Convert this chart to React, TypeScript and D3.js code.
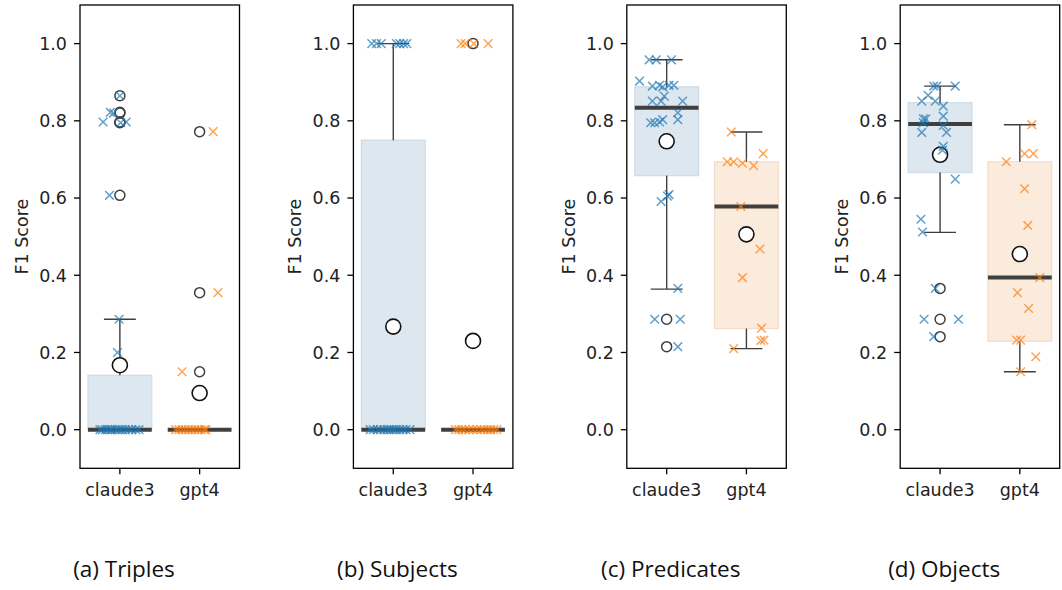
import React from "react";
import * as d3 from "d3";

const categories = ["claude3", "gpt4"];
const panelTitles = ["(a) Triples", "(b) Subjects", "(c) Predicates", "(d) Objects"];
const yTicks = [0, 0.2, 0.4, 0.6, 0.8, 1.0];

// box statistics per panel: [claude3, gpt4]
const q1 = [[0, 0], [0, 0], [0.658, 0.262], [0.666, 0.229]];
const medians = [[0, 0], [0, 0], [0.834, 0.578], [0.792, 0.394]];
const q3 = [[0.141, 0], [0.75, 0], [0.888, 0.694], [0.847, 0.694]];
const whiskerLo = [[0, 0], [0, 0], [0.364, 0.21], [0.511, 0.15]];
const whiskerHi = [[0.286, 0], [1.0, 0], [0.958, 0.771], [0.89, 0.79]];
const means = [[0.167, 0.095], [0.267, 0.23], [0.747, 0.506], [0.712, 0.455]];

// individual scores: [value, jitter offset in category units]
const triplesClaude3 = [
  [0.865, 0.0], [0.822, -0.12], [0.82, -0.08], [0.797, -0.21], [0.797, 0.08], [0.795, 0.01],
  [0.607, -0.13], [0.286, -0.01], [0.2, -0.03],
  [0, -0.25], [0, -0.22], [0, -0.18], [0, -0.15], [0, -0.12], [0, -0.1], [0, -0.06], [0, -0.03],
  [0, 0.0], [0, 0.03], [0, 0.07], [0, 0.11], [0, 0.15], [0, 0.2], [0, 0.24],
];
const triplesGpt4 = [
  [0.772, 0.17], [0.355, 0.23], [0.15, -0.22],
  [0, -0.3], [0, -0.26], [0, -0.22], [0, -0.18], [0, -0.14], [0, -0.1], [0, -0.06], [0, -0.02],
  [0, 0.02], [0, 0.06], [0, 0.08],
];
const subjectsClaude3 = [
  [1, -0.27], [1, -0.21], [1, -0.15], [1, 0.04], [1, 0.08], [1, 0.13], [1, 0.17],
  [0, -0.29], [0, -0.25], [0, -0.2], [0, -0.16], [0, -0.12], [0, -0.08], [0, -0.05], [0, -0.02],
  [0, 0.01], [0, 0.04], [0, 0.08], [0, 0.12], [0, 0.16], [0, 0.21],
];
const subjectsGpt4 = [
  [1, -0.15], [1, -0.1], [1, 0.01], [1, 0.19],
  [0, -0.22], [0, -0.18], [0, -0.14], [0, -0.1], [0, -0.05], [0, 0.0], [0, 0.05], [0, 0.1],
  [0, 0.14], [0, 0.18], [0, 0.22], [0, 0.26], [0, 0.3],
];
const predicatesClaude3 = [
  [0.958, -0.22], [0.958, -0.13], [0.958, 0.06], [0.903, -0.34],
  [0.89, -0.18], [0.892, -0.09], [0.888, -0.05], [0.892, 0.03], [0.892, 0.09],
  [0.864, -0.03], [0.851, -0.18], [0.851, -0.07], [0.851, 0.2], [0.821, 0.14],
  [0.803, -0.05], [0.803, 0.14], [0.795, -0.2], [0.795, -0.15], [0.797, -0.09],
  [0.609, 0.03], [0.605, 0.01], [0.591, -0.07], [0.366, 0.14],
  [0.286, -0.15], [0.286, 0.17], [0.215, 0.14],
];
const predicatesGpt4 = [
  [0.771, -0.19], [0.694, -0.24], [0.694, -0.16], [0.69, -0.05], [0.684, 0.09], [0.715, 0.21],
  [0.578, -0.07], [0.468, 0.17], [0.394, -0.05], [0.263, 0.19], [0.232, 0.22], [0.231, 0.18],
  [0.21, -0.16],
];
const objectsClaude3 = [
  [0.89, -0.08], [0.89, -0.04], [0.89, 0.19], [0.866, -0.15], [0.851, -0.23], [0.851, -0.06],
  [0.838, 0.04], [0.812, 0.04], [0.805, -0.21], [0.805, -0.18], [0.795, -0.21], [0.788, 0.04],
  [0.77, -0.23], [0.77, 0.08], [0.734, 0.04], [0.724, 0.03], [0.649, 0.19], [0.545, -0.24],
  [0.512, -0.22], [0.366, -0.06], [0.286, -0.2], [0.286, 0.23], [0.241, -0.08],
];
const objectsGpt4 = [
  [0.79, 0.15], [0.694, -0.17], [0.715, 0.06], [0.715, 0.17], [0.624, 0.06], [0.529, 0.1],
  [0.394, 0.25], [0.355, -0.03], [0.314, 0.11], [0.232, -0.04], [0.232, 0.01], [0.189, 0.2],
  [0.15, 0.01],
];

const points = [
  [triplesClaude3, triplesGpt4],
  [subjectsClaude3, subjectsGpt4],
  [predicatesClaude3, predicatesGpt4],
  [objectsClaude3, objectsGpt4],
];

const seriesColors = ["#1f77b4", "#ff7f0e"];
const boxFills = ["#dde7ef", "#fbebdd"];
const boxStrokes = ["#cedbe6", "#f4dcc8"];
const lineColor = "#3f3f3f";

const panelLeft0 = 80;
const panelStep = 273.4;
const plotW = 159.5;
const plotTop = 5;
const plotBottom = 468.3;
const font = "DejaVu Sans, sans-serif";
const tol = 0.004;

function Panel({ idx }: { idx: number }) {
  const left = panelLeft0 + idx * panelStep;
  const x = d3.scaleLinear().domain([-0.5, 1.5]).range([left, left + plotW]);
  const y = d3.scaleLinear().domain([-0.1, 1.1]).range([plotBottom, plotTop]);
  const boxHalf = x(0.4) - x(0);
  const capHalf = boxHalf / 2;
  const midY = (plotTop + plotBottom) / 2;
  return (
    <g>
      {categories.map((c, ci) => {
        const cx = x(ci);
        const lo = q1[idx][ci], hi = q3[idx][ci];
        const wl = whiskerLo[idx][ci], wh = whiskerHi[idx][ci];
        const pts = points[idx][ci];
        const outl = Array.from(new Set(pts.filter(p => p[0] > wh + tol || p[0] < wl - tol).map(p => p[0])));
        return (
          <g key={c}>
            {hi > lo && (
              <rect x={cx - boxHalf} y={y(hi)} width={boxHalf * 2} height={y(lo) - y(hi)}
                fill={boxFills[ci]} stroke={boxStrokes[ci]} strokeWidth={1.2} />
            )}
            {wh > hi && (
              <g stroke={lineColor} strokeWidth={1.4}>
                <line x1={cx} x2={cx} y1={y(hi)} y2={y(wh)} />
                <line x1={cx - capHalf} x2={cx + capHalf} y1={y(wh)} y2={y(wh)} />
              </g>
            )}
            {wl < lo && (
              <g stroke={lineColor} strokeWidth={1.4}>
                <line x1={cx} x2={cx} y1={y(lo)} y2={y(wl)} />
                <line x1={cx - capHalf} x2={cx + capHalf} y1={y(wl)} y2={y(wl)} />
              </g>
            )}
            <line x1={cx - boxHalf} x2={cx + boxHalf} y1={y(medians[idx][ci])} y2={y(medians[idx][ci])}
              stroke={lineColor} strokeWidth={4} />
            {outl.map((v, k) => (
              <circle key={k} cx={cx} cy={y(v)} r={5} fill="none" stroke={lineColor} strokeWidth={1.5} />
            ))}
            <circle cx={cx} cy={y(means[idx][ci])} r={7.5} fill="white" stroke="#111" strokeWidth={1.6} />
            {pts.map((p, k) => {
              const px = x(ci + p[1]);
              const py = y(p[0]);
              const s = 4.3;
              return (
                <path key={k} d={`M${px - s},${py - s}L${px + s},${py + s}M${px - s},${py + s}L${px + s},${py - s}`}
                  stroke={seriesColors[ci]} strokeWidth={1.5} opacity={0.7} fill="none" />
              );
            })}
          </g>
        );
      })}
      <rect x={left} y={plotTop} width={plotW} height={plotBottom - plotTop} fill="none" stroke="#000" strokeWidth={1.3} />
      {yTicks.map(t => (
        <g key={t}>
          <line x1={left - 6} x2={left} y1={y(t)} y2={y(t)} stroke="#000" strokeWidth={1.3} />
          <text x={left - 13} y={y(t)} dy="0.36em" textAnchor="end" fontFamily={font} fontSize={17.5} fill="#222">
            {t.toFixed(1)}
          </text>
        </g>
      ))}
      {categories.map((c, ci) => (
        <g key={c}>
          <line x1={x(ci)} x2={x(ci)} y1={plotBottom} y2={plotBottom + 6} stroke="#000" strokeWidth={1.3} />
          <text x={x(ci)} y={plotBottom + 28} textAnchor="middle" fontFamily={font} fontSize={17.5} fill="#222">{c}</text>
        </g>
      ))}
      <text transform={`translate(${left - 52},${midY}) rotate(-90)`} textAnchor="middle" fontFamily={font} fontSize={17.5} fill="#222">
        F1 Score
      </text>
      <text x={left + 44} y={577} textAnchor="middle" fontFamily="'Open Sans', sans-serif" fontSize={22.5} fill="#111">
        {panelTitles[idx]}
      </text>
    </g>
  );
}

export default function App() {
  return (
    <svg width={1062} height={590} style={{ position: "absolute", left: 0, top: 0, background: "#fff" }}>
      <rect width={1062} height={590} fill="#fff" />
      {panelTitles.map((t, i) => <Panel key={t} idx={i} />)}
    </svg>
  );
}
